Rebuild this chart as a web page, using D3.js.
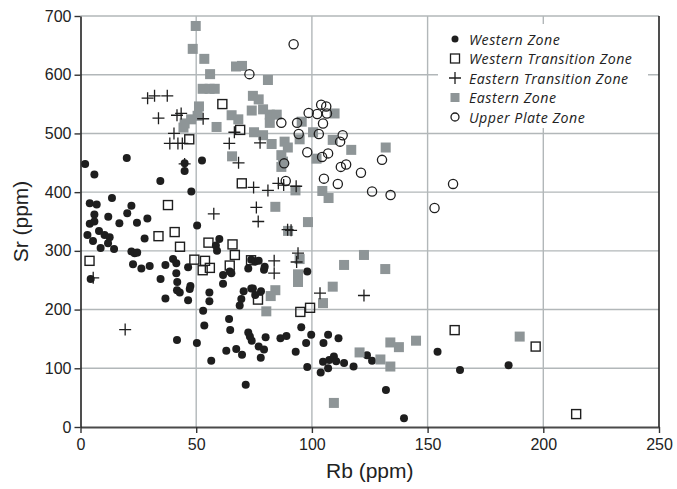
<!DOCTYPE html>
<html>
<head>
<meta charset="utf-8">
<script src="https://cdn.jsdelivr.net/npm/d3@7"></script>
<style>
  html, body { margin: 0; padding: 0; background: #fff; }
  svg { display: block; }
</style>
</head>
<body>
<svg id="chart" width="677" height="489"></svg>
<script>
// Rb vs Sr (ppm) by tectonic zone
const xTicks = [0, 50, 100, 150, 200, 250];
const yTicks = [0, 100, 200, 300, 400, 500, 600, 700];

const seriesNames = ["Western Zone", "Western Transition Zone", "Eastern Transition Zone", "Eastern Zone", "Upper Plate Zone"];

// [Rb, Sr]
const westernZone = [
  [2,448],[6,430],[20,458],[34.5,419],
  [4,381],[7,379],[13.6,390],[22,377],[6,362],[12,358],[20.2,364],[28.9,355],[16.8,347],[24.4,348],
  [4,346],[6,350],[8,334],[3,327],[10.4,327],[12.6,323],[5.4,317],[11.9,313],[8.7,305],[14.5,303],
  [27.7,321],[22,299],[23.4,296],[24.5,297],[22.7,277],[26.3,270],[29.9,274],[34.6,252],[36.7,276],
  [36.7,219],[4.4,252],
  [45,449],[45,436],[52.5,454],[47.9,401],[50.4,343],
  [40,286],[41.4,279],[41.4,262],[41.8,247],[41.7,233],[42.9,229],[46.5,272],[47.5,240],[47.2,235],
  [46.5,216],[41.7,148],[50.3,143],[53,198],[53.5,173],[55.7,229],[55.7,214],[56.5,113],
  [60,320],[58.5,309],[59,300],[61.6,259],[64.5,265],[65.2,262],[61.6,244],[64.2,184],[64.7,165],
  [63,130],[67.3,133],[69.8,123],[71.4,72],[70.5,231],[69.5,218],[68.8,207],[72.5,270],[73.8,236],
  [72.5,161],[73.2,154],[74,147],
  [73.8,285],[75.5,282],[77,283],[79.3,268],[79.6,273],[74.5,236],[78,231],[75.5,225],[98,265],
  [80,153],[86.4,151],[89,155],[77,137],[79.3,132],[77.9,118],[93,128],[95.4,170],[97.5,143],
  [99.7,157],[98,102],[103.8,93],[107,157],[105,143],[104.8,111],[107,100],[107.5,114],[109.5,120],
  [110.5,112],[111.5,151],[113.9,109],[118,103],[123.8,122],[126,113],[132,63],[139.8,15],
  [154.3,128],[164,97],[185,105]
];

const westernTransition = [
  [61.3,550],[69,506],[47,490],[69.7,415],[37.8,378],[33.7,325],[40.7,332],[43,307],[55.3,314],
  [65.7,311],[3.9,283],[49.2,285],[53.8,283],[52.8,267],[55.9,271],[66.7,293],[64.5,275],[73.7,284],
  [76.7,217],[95,196],[99.2,203],[161.7,165],[196.7,137],[214.2,22]
];

const easternTransition = [
  [29,560],[32,564],[37.5,564],[33.7,526],[41.7,531],[43.5,534],[53,525],[40.4,500],[38.6,483],
  [42.1,483],[44,483],[45,448],[64.3,483],[66.5,502],[68.3,450],[77.6,484],[57.6,363],[74.8,408],
  [81,403],[85.5,415],[87.8,412],[93.2,410],[76,374],[76.8,350],[89.5,336],[91,335],[5.5,254],
  [19.3,166],[83.7,283],[83.7,262],[94,296],[93.4,281],[103.5,228],[122.5,224]
];

const easternZone = [
  [49.8,683],[48.5,644],[53.5,627],[56,601],[52.8,576],[55.8,576],[58,576],[51.2,546],[50.6,530],
  [47.8,524],[45,517],[44.5,510],[58.8,511],[65.3,531],[68.2,524],[67.2,614],[69.8,615],[65.5,461],
  [81,591],[74.5,564],[77,558],[74,539],[78.9,541],[81.8,532],[84.8,532],[81.8,518],[75,502],
  [78.9,497],[82.6,482],[88.2,486],[89.6,476],[86.8,463],[87.5,452],[86.8,443],[94.7,490],
  [100.5,502],[109,489],[95.6,520],[109.8,534],[102,457],[104.5,402],[107.2,390],[92.9,403],
  [84.2,375],[98.3,349],[117,472],[131.9,476],[89.7,334],[94.7,286],[94,260],[94,247],[84.2,233],
  [82.2,223],[80.3,197],[109,239],[104.8,211],[109.5,41],[113.9,276],[122.5,293],[131.7,269],
  [120.6,127],[129.6,115],[133.9,144],[137.6,136],[133.9,103],[145,147],[189.8,154]
];

const upperPlate = [
  [92.1,652],[73,601],[86.8,518],[93.6,518],[98.6,535],[94.3,499],[104,549],[106.2,546],[102.3,533],
  [106.5,534],[104.8,517],[103,499],[98,468],[107,466],[104.4,460],[88,449],[88.7,419],[105.2,423],
  [113.3,497],[112.2,486],[112.5,443],[114.8,447],[121.2,433],[130.3,455],[111.2,414],[126,401],
  [134,395],[161,414],[153,373]
];

const svg = d3.select("#chart");
const x = d3.scaleLinear().domain([0, 250]).range([80.5, 659]);
const y = d3.scaleLinear().domain([0, 700]).range([427, 16]);

const gridColor = "#b2b7b9";
const ink = "#1e1e1e";
const greyFill = "#8e9597";

// grid
const grid = svg.append("g");
grid.selectAll("line.gx").data(xTicks.filter(t => t > 0 && t < 250)).join("line")
  .attr("x1", d => x(d)).attr("x2", d => x(d))
  .attr("y1", y(700)).attr("y2", y(0))
  .attr("stroke", gridColor).attr("stroke-width", 1.4);
grid.selectAll("line.gy").data(yTicks.filter(t => t > 0)).join("line")
  .attr("x1", x(0)).attr("x2", x(250))
  .attr("y1", d => y(d)).attr("y2", d => y(d))
  .attr("stroke", gridColor).attr("stroke-width", 1.4);

// legend background (white box hides the grid behind it)
svg.append("rect").attr("x", 438).attr("y", 24).attr("width", 210).attr("height", 104).attr("fill", "#fff");

// marks
const marks = svg.append("g");
marks.selectAll("circle.w").data(westernZone).join("circle")
  .attr("cx", d => x(d[0])).attr("cy", d => y(d[1])).attr("r", 4)
  .attr("fill", ink);

marks.selectAll("rect.e").data(easternZone).join("rect")
  .attr("x", d => x(d[0]) - 5).attr("y", d => y(d[1]) - 5)
  .attr("width", 10).attr("height", 10).attr("fill", greyFill);

marks.selectAll("rect.wt").data(westernTransition).join("rect")
  .attr("x", d => x(d[0]) - 4.5).attr("y", d => y(d[1]) - 4.5)
  .attr("width", 9).attr("height", 9)
  .attr("fill", "none").attr("stroke", ink).attr("stroke-width", 1.4);

marks.selectAll("path.et").data(easternTransition).join("path")
  .attr("d", d => {
    const cx = x(d[0]), cy = y(d[1]), h = 6;
    return `M${cx - h},${cy}H${cx + h}M${cx},${cy - h}V${cy + h}`;
  })
  .attr("stroke", ink).attr("stroke-width", 1.3).attr("fill", "none");

marks.selectAll("circle.up").data(upperPlate).join("circle")
  .attr("cx", d => x(d[0])).attr("cy", d => y(d[1])).attr("r", 4.6)
  .attr("fill", "none").attr("stroke", ink).attr("stroke-width", 1.3);

// axes
const xAxis = svg.append("g").attr("transform", `translate(0,${y(0)})`)
  .call(d3.axisBottom(x).tickValues(xTicks).tickSize(6).tickPadding(6).tickSizeOuter(0));
xAxis.select(".domain").attr("stroke", "#4a4a4a").attr("stroke-width", 2);
xAxis.selectAll(".tick line").attr("stroke", "#333").attr("stroke-width", 1.4);
xAxis.selectAll(".tick text").attr("font-family", "Liberation Sans, Arial, sans-serif")
  .attr("font-size", 16).attr("fill", "#222");

const yAxis = svg.append("g").attr("transform", `translate(${x(0)},0)`)
  .call(d3.axisLeft(y).tickValues(yTicks).tickSize(6).tickPadding(3).tickSizeOuter(0));
yAxis.select(".domain").attr("stroke", "#222").attr("stroke-width", 1.6);
yAxis.selectAll(".tick line").attr("stroke", "#333").attr("stroke-width", 1.4);
yAxis.selectAll(".tick text").attr("font-family", "Liberation Sans, Arial, sans-serif")
  .attr("font-size", 16).attr("fill", "#222");

// right frame edge
svg.append("line").attr("x1", x(250)).attr("x2", x(250)).attr("y1", y(700)).attr("y2", y(0))
  .attr("stroke", "#222").attr("stroke-width", 1.6);

// axis titles
svg.append("text").attr("x", x(125)).attr("y", 478).attr("text-anchor", "middle")
  .attr("font-family", "Liberation Sans, Arial, sans-serif").attr("font-size", 21).attr("fill", "#222")
  .text("Rb (ppm)");
svg.append("text").attr("transform", `translate(28,${(y(0) + y(700)) / 2}) rotate(-90)`)
  .attr("text-anchor", "middle")
  .attr("font-family", "Liberation Sans, Arial, sans-serif").attr("font-size", 21).attr("fill", "#222")
  .text("Sr (ppm)");

// legend
const legend = svg.append("g").attr("transform", "translate(455,39)");
const rowH = 19.5;
const symbols = [
  g => g.append("circle").attr("r", 3.5).attr("fill", ink),
  g => g.append("rect").attr("x", -4.5).attr("y", -4.5).attr("width", 9).attr("height", 9)
        .attr("fill", "none").attr("stroke", ink).attr("stroke-width", 1.3),
  g => g.append("path").attr("d", "M-6,0H6M0,-6V6").attr("stroke", ink).attr("stroke-width", 1.3),
  g => g.append("rect").attr("x", -4.5).attr("y", -4.5).attr("width", 9).attr("height", 9).attr("fill", greyFill),
  g => g.append("circle").attr("r", 4).attr("fill", "none").attr("stroke", ink).attr("stroke-width", 1.3)
];
seriesNames.forEach((name, i) => {
  const row = legend.append("g").attr("transform", `translate(0,${i * rowH})`);
  symbols[i](row);
  row.append("text").attr("x", 14).attr("y", 5.5)
    .attr("font-family", "'Open Sans', sans-serif").attr("font-style", "italic")
    .attr("font-size", 14.2).attr("letter-spacing", 0.5).attr("fill", "#222")
    .text(name);
});
</script>
</body>
</html>
